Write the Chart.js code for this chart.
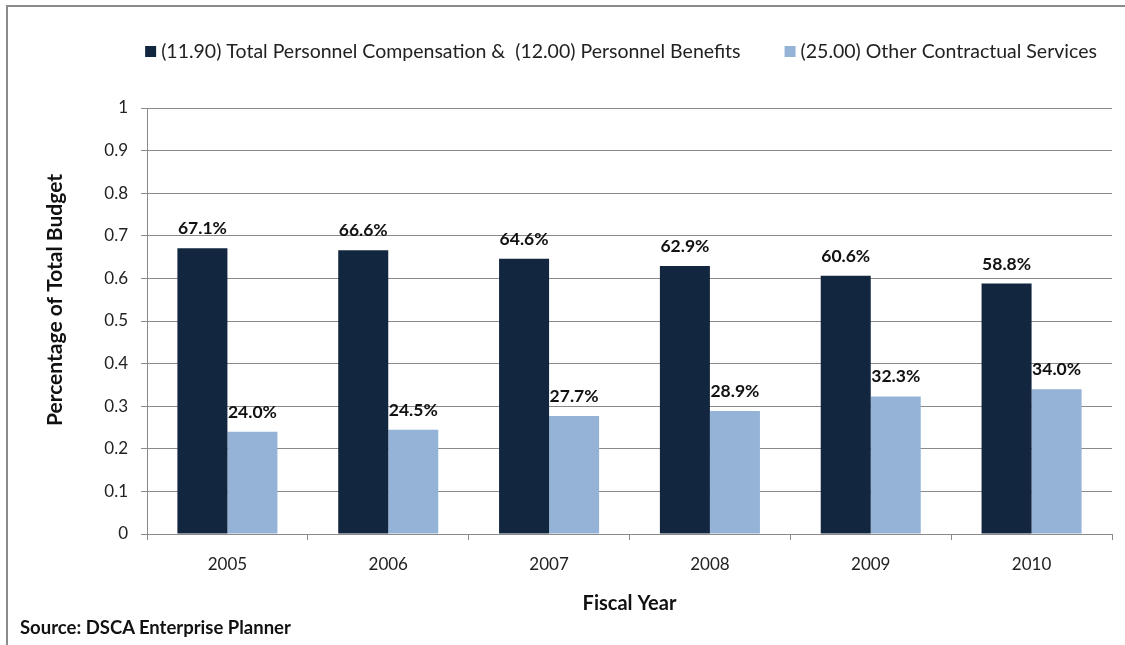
<!DOCTYPE html>
<html>
<head>
<meta charset="utf-8">
<script src="https://cdn.jsdelivr.net/npm/chart.js@4.4.1/dist/chart.umd.min.js"></script>
<style>
    body { margin: 0; background: #fff; overflow: hidden; font-family: Lato, sans-serif; }
    #frame {
        position: absolute; left: 6px; top: 5px;
        width: 1130px; height: 660px;
        border: 2px solid #8a8a8a;
    }
    #chartBox { position: absolute; left: 0; top: 0; width: 1117px; height: 638px; }
    #source {
        position: absolute; left: 12px; top: 609px;
        font: bold 18.5px Lato, sans-serif; color: #111;
    }
</style>
</head>
<body>
<div id="frame">
    <div id="chartBox"><canvas id="budgetChart"></canvas></div>
    <div id="source">Source: DSCA Enterprise Planner</div>
</div>
<script>
// Chart data
const fiscalYears = ['2005', '2006', '2007', '2008', '2009', '2010'];
const personnelShare = [0.671, 0.666, 0.646, 0.629, 0.606, 0.588];
const contractualShare = [0.240, 0.245, 0.277, 0.289, 0.323, 0.340];
const personnelLabel = '(11.90) Total Personnel Compensation &  (12.00) Personnel Benefits';
const contractualLabel = '(25.00) Other Contractual Services';
const yAxisTitle = 'Percentage of Total Budget';

const gridGray = '#8a8a8a';

// Percentage labels above each bar
const barValueLabels = {
    id: 'barValueLabels',
    afterDatasetsDraw(chart) {
        const ctx = chart.ctx;
        ctx.save();
        ctx.font = 'bold 17.5px Lato, sans-serif';
        ctx.fillStyle = '#111';
        ctx.textAlign = 'center';
        ctx.textBaseline = 'alphabetic';
        chart.data.datasets.forEach((ds, i) => {
            chart.getDatasetMeta(i).data.forEach((bar, j) => {
                ctx.fillText((ds.data[j] * 100).toFixed(1) + '%', bar.x, bar.y - 14);
            });
        });
        ctx.restore();
    }
};

// One-row legend above the plot, Excel style
const topLegend = {
    id: 'topLegend',
    afterDraw(chart, args, opts) {
        const ctx = chart.ctx;
        ctx.save();
        ctx.font = '19.5px Lato, sans-serif';
        ctx.textBaseline = 'middle';
        ctx.textAlign = 'left';
        const box = 11, textGap = 5, itemGap = 44;
        const items = chart.data.datasets.map(ds => ({
            text: ds.label, color: ds.backgroundColor, w: ctx.measureText(ds.label).width
        }));
        let total = items.reduce((s, it) => s + box + textGap + it.w, 0) + itemGap * (items.length - 1);
        let x = opts.centerX - total / 2;
        items.forEach(it => {
            ctx.fillStyle = it.color;
            ctx.fillRect(x, opts.y - box / 2, box, box);
            ctx.fillStyle = '#222';
            ctx.fillText(it.text, x + box + textGap, opts.y);
            x += box + textGap + it.w + itemGap;
        });
        ctx.restore();
    }
};

// Rotated y-axis title (sits a bit above the plot's middle, as in the original)
const sideTitle = {
    id: 'sideTitle',
    afterDraw(chart, args, opts) {
        const ctx = chart.ctx;
        ctx.save();
        ctx.translate(opts.x, opts.y);
        ctx.rotate(-Math.PI / 2);
        ctx.font = 'bold 21px Lato, sans-serif';
        ctx.fillStyle = '#111';
        ctx.textAlign = 'center';
        ctx.textBaseline = 'middle';
        ctx.fillText(yAxisTitle, 0, 0);
        ctx.restore();
    }
};

const ctx = document.getElementById('budgetChart').getContext('2d');
new Chart(ctx, {
    type: 'bar',
    data: {
        labels: fiscalYears,
        datasets: [
            { label: personnelLabel, data: personnelShare, backgroundColor: '#13263f' },
            { label: contractualLabel, data: contractualShare, backgroundColor: '#95b3d7' }
        ]
    },
    options: {
        responsive: true,
        maintainAspectRatio: false,
        animation: false,
        layout: { padding: { left: 33, right: 13, top: 101, bottom: 25 } },
        datasets: { bar: { categoryPercentage: 0.622, barPercentage: 1.0 } },
        scales: {
            x: {
                grid: { display: true, drawOnChartArea: false, drawTicks: true, tickLength: 6, color: gridGray },
                border: { display: true, color: gridGray },
                ticks: { color: '#222', padding: 14, font: { family: 'Lato', size: 17 } },
                title: {
                    display: true, text: 'Fiscal Year', color: '#111',
                    font: { family: 'Lato', size: 20, weight: 'bold' },
                    padding: { top: 18, bottom: 4 }
                },
                afterFit: scale => { scale.height = 86; }
            },
            y: {
                min: 0,
                max: 1,
                ticks: {
                    stepSize: 0.1, color: '#222', padding: 13, font: { family: 'Lato', size: 17 },
                    callback: value => String(Number(value.toFixed(1)))
                },
                grid: { color: gridGray, tickLength: 6 },
                border: { display: true, color: gridGray },
                afterFit: scale => { scale.width = 106; }
            }
        },
        plugins: {
            legend: { display: false },
            tooltip: { enabled: false },
            topLegend: { centerX: 613, y: 44.5 },
            sideTitle: { x: 47, y: 293 }
        }
    },
    plugins: [barValueLabels, topLegend, sideTitle]
});
</script>
</body>
</html>
